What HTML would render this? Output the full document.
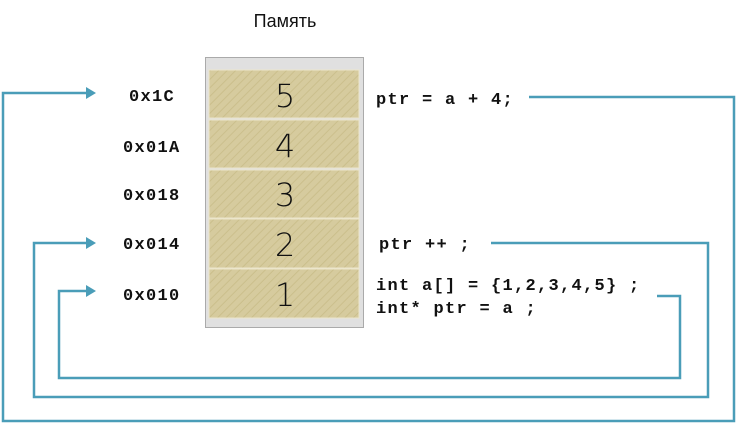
<!DOCTYPE html>
<html><head><meta charset="utf-8"><style>
body{margin:0;width:739px;height:424px;background:#fff;overflow:hidden}
</style></head><body>
<svg width="739" height="424" xmlns="http://www.w3.org/2000/svg">
<defs>
<pattern id="h" width="6" height="6" patternUnits="userSpaceOnUse" patternTransform="rotate(45)">
<rect width="6" height="6" fill="#d6cb9e"/><line x1="0" y1="0" x2="0" y2="6" stroke="#cbbf8c" stroke-width="2"/>
</pattern>
</defs>
<text x="285" y="27" font-family="Liberation Sans, sans-serif" font-size="18" text-anchor="middle" fill="#111">Память</text>
<rect x="205.5" y="57.5" width="158" height="270" fill="#e0e0e0" stroke="#aaa"/>
<g fill="url(#h)" stroke="#ece6cc" stroke-width="1">
<rect x="209" y="70" width="150" height="48"/>
<rect x="209" y="120" width="150" height="48"/>
<rect x="209" y="170" width="150" height="48"/>
<rect x="209" y="219" width="150" height="49"/>
<rect x="209" y="269" width="150" height="49"/>
</g>
<g font-family="DejaVu Sans, sans-serif" font-weight="300" font-size="32" fill="#111" text-anchor="middle">
<text x="285" y="107">5</text><text x="285" y="157">4</text><text x="285" y="206">3</text><text x="285" y="256">2</text><text x="285" y="306">1</text>
</g>
<g font-family="Liberation Mono, monospace" font-weight="bold" font-size="17" fill="#111" letter-spacing="1.3">
<text x="129" y="101">0x1C</text>
<text x="123" y="152">0x01A</text>
<text x="123" y="200">0x018</text>
<text x="123" y="249">0x014</text>
<text x="123" y="300">0x010</text>
<text x="376" y="104">ptr = a + 4;</text>
<text x="379" y="249">ptr ++ ;</text>
<text x="376" y="290">int a[] = {1,2,3,4,5} ;</text>
<text x="376" y="313">int* ptr = a ;</text>
</g>
<g fill="none" stroke="#4a9db8" stroke-width="2.5">
<polyline points="529,97 734,97 734,421 3,421 3,93 88,93"/>
<polyline points="491,243 708,243 708,397 34,397 34,243 88,243"/>
<polyline points="657,296 680,296 680,378 59,378 59,291 88,291"/>
</g>
<g fill="#4a9db8">
<polygon points="86,87 96,93 86,99"/>
<polygon points="86,237 96,243 86,249"/>
<polygon points="86,285 96,291 86,297"/>
</g>
</svg>
</body></html>
